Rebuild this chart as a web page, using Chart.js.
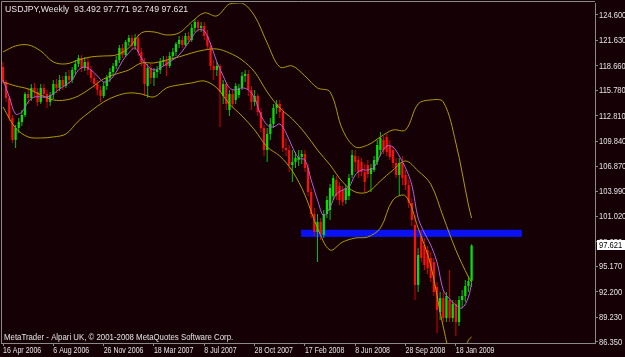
<!DOCTYPE html>
<html>
<head>
<meta charset="utf-8">
<script src="https://cdn.jsdelivr.net/npm/chart.js@4.4.1/dist/chart.umd.min.js"></script>
<style>
  html, body { margin: 0; padding: 0; background: #150006; }
  #wrap { width: 625px; height: 357px; }
</style>
</head>
<body>
<div id="wrap"><canvas id="chart" width="625" height="357"></canvas></div>
<script>
// USDJPY weekly candles, week index 0 = 16 Apr 2006
const opens = [
  118.51, 116.76, 114.88, 112.54, 109.97, 111.37, 112.07, 112.89, 115.35, 114.88,
  116.06, 115.59, 114.42, 116.06, 115.35, 114.42, 115.24, 116.52, 116.06, 116.99,
  116.29, 117.46, 116.99, 118.16, 118.87, 119.57, 118.40, 119.10, 118.16, 117.23,
  116.52, 115.82, 115.12, 116.29, 117.23, 117.93, 118.63, 119.33, 120.74, 119.92,
  121.44, 121.91, 120.97, 121.91, 120.27, 119.10, 116.29, 118.40, 117.23, 117.93,
  118.16, 119.10, 119.33, 118.63, 119.80, 120.27, 121.21, 121.68, 121.09, 122.14,
  121.68, 123.08, 123.78, 123.08, 123.32, 122.14, 120.97, 118.63, 118.16, 118.63,
  115.12, 116.52, 113.48, 115.35, 114.65, 115.24, 116.06, 117.46, 117.69, 115.82,
  114.42, 115.12, 113.24, 111.37, 108.79, 110.67, 111.84, 113.71, 114.18, 113.24,
  109.03, 108.79, 107.04, 107.39, 107.62, 107.98, 108.33, 106.69, 103.88, 101.30,
  99.19, 100.36, 98.84, 101.30, 101.77, 103.41, 105.28, 104.58, 104.11, 102.94,
  103.41, 105.87, 108.09, 107.62, 107.39, 106.22, 107.04, 105.98, 106.45, 107.39,
  108.79, 109.97, 110.32, 109.26, 108.79, 107.27, 105.87, 107.27, 105.87, 104.70,
  102.59, 100.01, 92.99, 98.72, 97.67, 97.08, 96.15, 95.68, 92.75, 89.82,
  91.46, 89.12, 91.23, 89.12, 90.76, 88.65, 91.23, 91.70, 92.87, 93.492
];
const highs = [
  119.10, 116.99, 115.12, 112.89, 111.72, 112.54, 113.48, 115.59, 116.06, 116.52,
  116.64, 116.06, 116.52, 116.52, 115.82, 115.59, 116.99, 117.11, 117.58, 117.46,
  117.93, 118.16, 118.51, 119.33, 119.92, 119.92, 119.69, 119.57, 118.63, 117.69,
  116.99, 116.29, 116.76, 117.58, 118.40, 118.98, 119.80, 121.09, 121.21, 121.68,
  122.26, 122.26, 122.38, 122.38, 120.74, 119.57, 118.87, 118.87, 118.40, 118.63,
  119.57, 119.80, 119.80, 120.27, 120.74, 121.44, 122.14, 122.14, 122.50, 122.61,
  123.55, 124.14, 124.02, 123.78, 123.78, 122.85, 121.44, 119.33, 119.10, 118.87,
  116.99, 116.76, 115.82, 115.82, 116.64, 116.52, 117.93, 118.16, 118.16, 116.29,
  115.82, 115.35, 113.71, 111.72, 111.37, 112.54, 114.18, 114.65, 114.65, 113.71,
  110.20, 109.38, 108.79, 108.56, 108.79, 108.79, 108.79, 107.16, 104.35, 102.00,
  101.30, 100.83, 101.77, 103.41, 104.81, 105.87, 105.75, 105.05, 104.58, 104.70,
  105.98, 108.79, 108.79, 108.09, 107.86, 107.16, 107.62, 107.16, 108.09, 109.97,
  110.90, 110.43, 110.67, 109.97, 109.26, 107.86, 107.86, 108.09, 106.45, 105.28,
  103.17, 101.18, 97.32, 99.43, 98.49, 97.55, 96.85, 96.15, 93.34, 92.17,
  92.17, 92.17, 94.74, 91.23, 91.23, 91.70, 92.40, 93.57, 94.04, 97.771
];
const lows = [
  116.52, 114.42, 112.19, 109.61, 109.03, 110.79, 111.61, 112.66, 114.18, 114.53,
  114.88, 113.95, 114.18, 114.88, 113.71, 113.95, 114.77, 115.47, 115.70, 115.82,
  116.06, 116.52, 116.64, 117.69, 118.51, 117.93, 118.05, 117.58, 116.76, 116.06,
  115.24, 114.42, 114.88, 115.82, 116.76, 117.58, 118.28, 118.98, 119.57, 119.69,
  120.97, 120.50, 120.50, 119.80, 118.63, 115.12, 114.88, 116.52, 116.29, 117.23,
  117.69, 118.63, 117.46, 118.40, 119.33, 119.80, 120.74, 120.74, 120.86, 121.21,
  121.44, 122.61, 122.61, 122.61, 121.68, 120.50, 118.16, 116.99, 117.46, 111.49,
  114.18, 113.48, 112.78, 113.71, 114.18, 114.88, 115.82, 116.76, 115.12, 113.48,
  113.95, 112.78, 110.90, 108.09, 107.39, 109.97, 111.37, 113.01, 112.54, 108.56,
  108.09, 106.22, 105.05, 106.69, 106.92, 107.16, 106.22, 103.41, 100.83, 98.72,
  95.68, 98.26, 98.49, 100.83, 100.60, 102.94, 102.94, 102.35, 102.24, 102.47,
  102.94, 105.52, 106.22, 105.52, 105.75, 103.88, 105.52, 103.88, 106.22, 107.04,
  108.09, 108.33, 108.09, 107.62, 106.69, 105.52, 103.41, 104.70, 104.11, 102.00,
  99.90, 91.23, 92.17, 95.68, 94.74, 94.27, 93.34, 91.70, 87.37, 88.89,
  88.65, 88.65, 88.65, 88.65, 87.01, 88.19, 90.29, 91.00, 92.17, 92.749
];
const closes = [
  116.76, 114.88, 112.54, 109.97, 111.37, 112.07, 112.89, 115.35, 114.88, 116.06,
  115.59, 114.42, 116.06, 115.35, 114.42, 115.24, 116.52, 116.06, 116.99, 116.29,
  117.46, 116.99, 118.16, 118.87, 119.57, 118.40, 119.10, 118.16, 117.23, 116.52,
  115.82, 115.12, 116.29, 117.23, 117.93, 118.63, 119.33, 120.74, 119.92, 121.44,
  121.91, 120.97, 121.91, 120.27, 119.10, 116.52, 118.40, 117.23, 117.93, 118.16,
  119.10, 119.33, 118.63, 119.80, 120.27, 121.21, 121.68, 121.09, 122.14, 121.68,
  123.08, 123.78, 123.08, 123.32, 122.14, 120.97, 118.63, 118.16, 118.63, 115.59,
  116.52, 114.18, 115.35, 114.18, 116.29, 116.06, 117.46, 117.69, 115.82, 114.42,
  115.12, 113.24, 111.37, 108.79, 110.67, 111.84, 113.71, 114.18, 113.24, 109.03,
  108.79, 107.04, 107.39, 107.86, 107.98, 108.33, 106.69, 103.88, 101.30, 99.19,
  100.36, 98.96, 101.30, 102.94, 104.35, 105.52, 103.41, 102.94, 102.71, 104.35,
  105.52, 108.21, 107.39, 106.22, 106.22, 105.05, 105.98, 106.69, 107.62, 109.38,
  110.20, 108.79, 108.56, 107.98, 107.27, 105.87, 107.27, 105.52, 104.70, 102.59,
  100.60, 92.99, 96.50, 96.15, 95.33, 94.98, 93.81, 92.17, 90.06, 91.46,
  89.12, 91.70, 89.12, 90.76, 88.65, 91.23, 91.70, 92.87, 93.45, 97.621
];

// Bollinger bands, read every 4 weeks
const bandWeeks = [0, 4, 8, 12, 16, 20, 24, 28, 32, 36, 40, 44, 48, 52, 56, 60, 64, 68, 72, 76,
  80, 84, 88, 92, 96, 100, 104, 108, 112, 116, 120, 124, 128, 132, 136, 140, 144, 148, 149];
const upperBand = [120.27, 120.97, 121.09, 120.39, 119.10, 118.87, 119.33, 119.69, 119.80, 119.92,
  120.74, 122.50, 122.61, 122.26, 122.50, 123.78, 124.84, 124.49, 125.89, 126.01,
  124.49, 121.32, 118.51, 118.63, 117.46, 116.06, 115.59, 111.14, 109.15, 109.38,
  110.32, 111.14, 111.14, 114.18, 114.65, 114.42, 109.61, 102.35, 100.83];
const middleBand = [116.76, 116.29, 115.94, 115.24, 114.65, 114.65, 115.12, 116.06, 117.11, 117.69,
  118.16, 118.98, 118.98, 119.33, 119.69, 120.15, 120.50, 120.62, 120.15, 119.33,
  117.93, 115.59, 113.71, 112.42, 110.79, 108.79, 107.04, 105.05, 103.88, 103.88,
  105.16, 106.45, 107.51, 106.34, 104.81, 100.95, 97.08, 93.92, 93.34];
const lowerBand = [113.83, 111.37, 110.32, 110.20, 110.32, 110.67, 112.19, 113.36, 114.42, 115.12,
  115.47, 115.35, 115.00, 116.06, 116.41, 116.64, 116.87, 116.06, 114.18, 112.78,
  111.14, 109.15, 108.09, 106.34, 103.53, 99.66, 97.08, 98.02, 98.49, 98.61,
  99.66, 102.94, 103.41, 99.66, 95.33, 88.07, 83.03, 86.54, 86.90];

// short moving average (violet), read every 2 weeks
const maWeeks = [0, 2, 4, 6, 8, 10, 12, 14, 16, 18, 20, 22, 24, 26, 28, 30, 32, 34, 36, 38,
  40, 42, 44, 46, 48, 50, 52, 54, 56, 58, 60, 62, 64, 66, 68, 70, 72, 74, 76, 78,
  80, 82, 84, 86, 88, 90, 92, 94, 96, 98, 100, 102, 104, 106, 108, 110, 112, 114, 116, 118,
  120, 122, 124, 126, 128, 130, 132, 134, 136, 138, 140, 142, 144, 146, 148, 149];
const maLine = [116.99, 115.00, 113.01, 113.24, 114.42, 115.00, 115.00, 115.00, 115.35, 115.94,
  116.41, 116.99, 118.16, 118.51, 118.16, 117.46, 116.76, 116.99, 117.93, 119.22,
  120.15, 120.74, 119.57, 118.63, 118.16, 118.40, 118.87, 119.33, 119.92, 120.86,
  121.91, 122.85, 122.73, 121.21, 119.10, 117.46, 116.06, 115.82, 116.06, 115.82,
  114.88, 112.89, 111.72, 111.49, 111.84, 110.79, 109.15, 107.86, 107.62, 105.28,
  102.94, 101.07, 102.12, 103.64, 104.11, 104.46, 105.87, 106.45, 106.45, 106.80,
  108.21, 109.26, 109.15, 108.09, 106.69, 104.70, 100.83, 99.08, 97.67, 95.68,
  92.40, 91.35, 90.64, 90.29, 91.58, 93.22];

// blue rectangle object: week span and price span
const zoneWeeks = [94.8, 165.0];
const zonePrices = [98.62, 99.46];

// axis ticks
const dateTickWeeks = [0, 16, 32, 48, 64, 80, 96, 112, 128, 144];
const dateLabels = ['16 Apr 2006', '6 Aug 2006', '26 Nov 2006', '18 Mar 2007', '8 Jul 2007',
  '28 Oct 2007', '17 Feb 2008', '8 Jun 2008', '28 Sep 2008', '18 Jan 2009'];
const priceTicks = [124.600, 121.630, 118.660, 115.780, 112.810, 109.840, 106.870,
  103.990, 101.020, 98.050, 95.170, 92.200, 89.230, 86.350];

const symbolText = 'USDJPY,Weekly  93.492 97.771 92.749 97.621';
const footerText = 'MetaTrader - Alpari UK, \u00a9 2001-2008 MetaQuotes Software Corp.';

const FONT = '"Liberation Sans", Arial, sans-serif';
const textColor = '#e4e4e4';
const axisColor = '#8a8a8a';
const bull = '#00e400', bullWick = '#00c400';
const bear = '#ff0c0c', bearWick = '#d40000';
const bandColor = '#b09c00';

const up = i => closes[i] >= opens[i];
const wicks = lows.map((l, i) => ({ x: i, y: [l, highs[i]] }));
const bodies = opens.map((o, i) => ({ x: i, y: [o, closes[i]] }));
const pts = (weeks, vals) => weeks.map((w, k) => ({ x: w, y: vals[k] }));

const lineSet = (label, weeks, vals, color, order) => ({
  type: 'line', label, data: pts(weeks, vals), borderColor: color, borderWidth: 1,
  pointRadius: 0, tension: 0.35, order
});

// the terminal font is narrow, so text is squeezed sideways
function narrowText(ctx, text, x, y, squeeze) {
  ctx.save();
  ctx.translate(x, y);
  ctx.scale(squeeze, 1);
  ctx.fillText(text, 0, 0);
  ctx.restore();
}

//rectangle behind the candles
const zonePlugin = {
  id: 'zone',
  beforeDatasetsDraw(chart) {
    const { ctx, scales: { x, y } } = chart;
    const x0 = x.getPixelForValue(zoneWeeks[0]);
    const x1 = x.getPixelForValue(zoneWeeks[1]);
    const y0 = y.getPixelForValue(zonePrices[1]);
    const y1 = y.getPixelForValue(zonePrices[0]);
    ctx.save();
    ctx.fillStyle = '#0a12f2';
    ctx.fillRect(x0, y0, x1 - x0, y1 - y0);
    ctx.restore();
  }
};

//frame, tick labels, texts and the last price box
const decorPlugin = {
  id: 'decor',
  afterDraw(chart) {
    const { ctx, chartArea: a, scales: { x, y } } = chart;
    ctx.save();
    ctx.strokeStyle = axisColor;
    ctx.lineWidth = 1;
    ctx.beginPath();
    ctx.moveTo(a.left + 0.5, a.bottom);
    ctx.lineTo(a.left + 0.5, a.top - 1.5);
    ctx.lineTo(a.right, a.top - 1.5);
    ctx.stroke();

    ctx.font = '9px ' + FONT;
    ctx.fillStyle = textColor;
    ctx.textAlign = 'left';

    ctx.textBaseline = 'top';
    x.ticks.forEach(t => {
      const label = dateLabels[dateTickWeeks.indexOf(t.value)];
      narrowText(ctx, label, x.getPixelForValue(t.value), a.bottom + 3.5, 0.78);
    });
    ctx.textBaseline = 'middle';
    y.ticks.forEach(t => {
      narrowText(ctx, t.value.toFixed(3), a.right + 4, y.getPixelForValue(t.value) + 0.5, 0.84);
    });

    ctx.textBaseline = 'alphabetic';
    narrowText(ctx, symbolText, 5, 12, 0.97);
    narrowText(ctx, footerText, 4, 340, 0.87);

    const last = closes[closes.length - 1];
    const py = Math.round(y.getPixelForValue(last));
    ctx.fillStyle = '#ffffff';
    ctx.fillRect(a.right + 2, py - 5, 40, 10);
    ctx.fillStyle = '#000000';
    ctx.textBaseline = 'middle';
    narrowText(ctx, last.toFixed(3), a.right + 4, py + 0.5, 0.84);
    ctx.restore();
  }
};

new Chart(document.getElementById('chart'), {
  type: 'bar',
  data: {
    datasets: [
      lineSet('MA', maWeeks, maLine, '#b45ee0', 0),
      lineSet('Upper', bandWeeks, upperBand, bandColor, 1),
      lineSet('Middle', bandWeeks, middleBand, bandColor, 1),
      lineSet('Lower', bandWeeks, lowerBand, bandColor, 1),
      {
        label: 'Body', data: bodies, grouped: false, maxBarThickness: 2.8, order: 2,
        backgroundColor: c => up(c.dataIndex) ? bull : bear
      },
      {
        label: 'Wick', data: wicks, grouped: false, maxBarThickness: 1, order: 3,
        backgroundColor: c => up(c.dataIndex) ? bullWick : bearWick
      }
    ]
  },
  options: {
    responsive: false,
    animation: false,
    layout: { padding: { left: 1, top: 3, right: 0, bottom: 0 }, autoPadding: false },
    plugins: { legend: { display: false }, tooltip: { enabled: false } },
    scales: {
      x: {
        type: 'linear', min: -0.636, max: 188.24, offset: false,
        afterBuildTicks: s => { s.ticks = dateTickWeeks.map(v => ({ value: v })); },
        afterFit: s => { s.height = 14; },
        ticks: { display: false, autoSkip: false, maxRotation: 0 },
        grid: { drawOnChartArea: false, drawTicks: true, tickLength: 3, color: axisColor, offset: false },
        border: { color: axisColor }
      },
      y: {
        position: 'right', min: 86.2, max: 126.0,
        afterBuildTicks: s => { s.ticks = priceTicks.map(v => ({ value: v })); },
        afterFit: s => { s.width = 30; },
        ticks: { display: false },
        grid: { drawOnChartArea: false, drawTicks: true, tickLength: 3, color: axisColor },
        border: { color: axisColor }
      }
    }
  },
  plugins: [zonePlugin, decorPlugin]
});
</script>
</body>
</html>
